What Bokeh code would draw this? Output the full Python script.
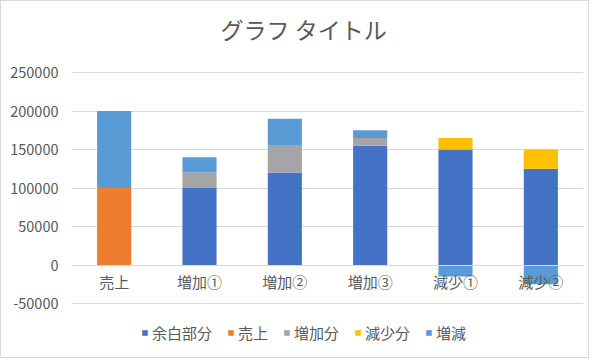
from bokeh.plotting import figure
from bokeh.models import (ColumnDataSource, Legend, LegendItem, FixedTicker,
                          NumeralTickFormatter, Range1d, Title)
from bokeh.embed import file_html
from bokeh.resources import INLINE

# ---- data ----
categories = ["売上", "増加①", "増加②", "増加③", "減少①", "減少②"]
series_names = ["余白部分", "売上", "増加分", "減少分", "増減"]
margin_part = [0, 100000, 120000, 155000, 150000, 125000]
sales = [100000, 0, 0, 0, 0, 0]
increase = [0, 20000, 35000, 10000, 0, 0]
decrease = [0, 0, 0, 0, 15000, 25000]
change = [100000, 20000, 35000, 10000, -15000, -25000]
y_ticks = [-50000, 0, 50000, 100000, 150000, 200000, 250000]
title_text = "グラフ タイトル"

series_values = [margin_part, sales, increase, decrease, change]
colors = ["#4472C4", "#ED7D31", "#A5A5A5", "#FFC000", "#5B9BD5"]

FONT = "Noto Sans CJK JP"
TXT = "#595959"
GRID = "#D9D9D9"

# layout (pixels): axis span 231px for the tick span; frame extends below
# the axis minimum so that the legend can sit inside the frame area.
AXIS_PX = 231
PAD_TOP_PX = 2
PAD_BOTTOM_PX = 47
unit = (y_ticks[-1] - y_ticks[0]) / AXIS_PX
y_end = y_ticks[-1] + PAD_TOP_PX * unit
y_start = y_ticks[0] - PAD_BOTTOM_PX * unit

p = figure(width=589, height=358, x_range=categories,
           y_range=Range1d(y_start, y_end),
           output_backend="svg", toolbar_location=None,
           min_border_left=70, min_border_right=7,
           min_border_top=69, min_border_bottom=9)
p.styles = {"border": "1px solid #D9D9D9"}
p.outline_line_color = None
p.background_fill_color = "white"
p.border_fill_color = "white"

# stack positives and negatives separately (as Excel does)
pos = [0.0] * len(categories)
neg = [0.0] * len(categories)
items = []
for name, vals, col in zip(series_names, series_values, colors):
    bottoms, tops = [], []
    for i, v in enumerate(vals):
        if v >= 0:
            bottoms.append(pos[i]); tops.append(pos[i] + v); pos[i] += v
        else:
            bottoms.append(neg[i]); tops.append(neg[i] + v); neg[i] += v
    src = ColumnDataSource(dict(x=categories, bottom=bottoms, top=tops))
    r = p.vbar(x="x", bottom="bottom", top="top", width=0.4, source=src,
               fill_color=col, line_color=None)
    items.append(LegendItem(label=name, renderers=[r]))

# axes
p.xaxis.fixed_location = 0
p.xaxis.axis_line_color = GRID
p.xaxis.major_tick_line_color = None
p.xaxis.minor_tick_line_color = None
p.xaxis.major_tick_out = 0
p.xaxis.major_tick_in = 0
p.xaxis.major_label_standoff = 6
p.xaxis.major_label_text_font = FONT
p.xaxis.major_label_text_font_size = "15px"
p.xaxis.major_label_text_color = TXT

p.yaxis.ticker = FixedTicker(ticks=y_ticks)
p.yaxis.formatter = NumeralTickFormatter(format="0")
p.yaxis.axis_line_color = None
p.yaxis.major_tick_line_color = None
p.yaxis.minor_tick_line_color = None
p.yaxis.major_tick_out = 0
p.yaxis.major_tick_in = 0
p.yaxis.major_label_standoff = 13
p.yaxis.major_label_text_font = FONT
p.yaxis.major_label_text_font_size = "14.5px"
p.yaxis.major_label_text_color = TXT

p.xgrid.grid_line_color = None
p.ygrid.grid_line_color = GRID
p.ygrid.grid_line_width = 1

# title (outermost) and a blank spacer between it and the plot frame
p.title.text = title_text
p.title.align = "left"
p.title.offset = 149
p.title.text_font = FONT
p.title.text_font_size = "23px"
p.title.text_font_style = "normal"
p.title.text_color = TXT
p.title.standoff = 0

spacer = Title(text=" ", text_font=FONT, text_font_size="10px", standoff=8)
p.add_layout(spacer, "above")

# legend (inside the frame's lower padding)
legend = Legend(items=items, orientation="horizontal", location=(70, 7),
                glyph_width=7, glyph_height=7, label_standoff=4, spacing=15,
                label_text_font=FONT, label_text_font_size="15px",
                label_text_color=TXT, border_line_color=None,
                background_fill_alpha=0, margin=0, padding=0)
p.add_layout(legend)

open("out.html", "w").write(file_html(p, INLINE))
